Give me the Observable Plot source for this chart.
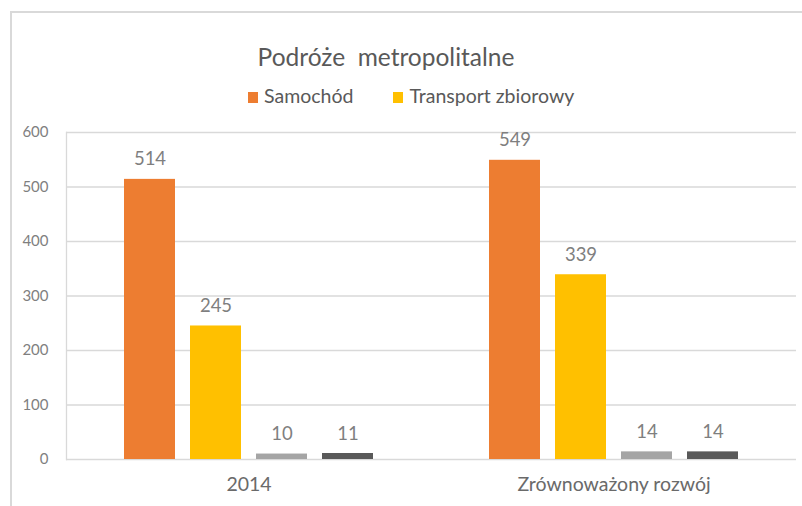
<!DOCTYPE html>
<html>
<head>
<meta charset="utf-8">
<script src="https://cdn.jsdelivr.net/npm/d3@7"></script>
<script src="https://cdn.jsdelivr.net/npm/@observablehq/plot@0.6"></script>
<style>
  html, body { margin: 0; padding: 0; background: #fff; }
  #wrap { position: relative; width: 802px; height: 506px; overflow: hidden; font-family: Lato, "Open Sans", sans-serif; }
  #frame { position: absolute; left: 10px; top: 11px; width: 800px; height: 500px; border-left: 2px solid #d9d9d9; border-top: 2px solid #d9d9d9; }
  #title { position: absolute; left: 0; top: 42px; width: 772px; text-align: center; font-size: 24.5px; color: #595959; white-space: pre; }
  #legend { position: absolute; left: 248px; top: 84px; font-size: 19.5px; color: #595959; white-space: nowrap; }
  #legend span.item { display: inline-block; margin-right: 40px; }
  #legend span.sw { display: inline-block; width: 10px; height: 11px; margin-right: 6px; vertical-align: 0px; }
  #chart { position: absolute; left: 0; top: 100px; }
</style>
</head>
<body>
<div id="wrap">
  <div id="frame"></div>
  <div id="title">Podróże  metropolitalne</div>
  <div id="legend"></div>
  <div id="chart"></div>
</div>
<script>
const groups = ["2014", "Zrównoważony rozwój"];
const series = ["Samochód", "Transport zbiorowy", "Seria 3", "Seria 4"];
const legendSeries = ["Samochód", "Transport zbiorowy"];
const colors = ["#ED7D31", "#FFC000", "#A5A5A5", "#595959"];
const values2014 = [514, 245, 10, 11];
const valuesRozwoj = [549, 339, 14, 14];
const yTicks = [0, 100, 200, 300, 400, 500, 600];

const data = [];
series.forEach((s, i) => data.push({group: groups[0], series: s, value: values2014[i]}));
series.forEach((s, i) => data.push({group: groups[1], series: s, value: valuesRozwoj[i]}));

const legend = document.getElementById("legend");
legendSeries.forEach(s => {
  const i = series.indexOf(s);
  const item = document.createElement("span");
  item.className = "item";
  const sw = document.createElement("span");
  sw.className = "sw";
  sw.style.background = colors[i];
  item.appendChild(sw);
  item.appendChild(document.createTextNode(s));
  legend.appendChild(item);
});

const chart = Plot.plot({
  width: 802,
  height: 406,
  marginLeft: 65,
  marginRight: 6,
  marginTop: 32,
  marginBottom: 47,
  style: {fontFamily: "Lato, 'Open Sans', sans-serif", background: "transparent"},
  fx: {domain: groups, padding: 0, label: null},
  x: {domain: series, paddingInner: 0.22, paddingOuter: 0.85, axis: null},
  y: {domain: [0, 600], label: null},
  color: {domain: series, range: colors},
  marks: [
    Plot.gridY(yTicks, {stroke: "#d9d9d9", strokeOpacity: 1, strokeWidth: 1.3, facetAnchor: null}),
    Plot.frame({anchor: "left", stroke: "#d9d9d9", strokeWidth: 1.3, facetAnchor: "left"}),
    Plot.axisY(yTicks, {tickSize: 0, tickPadding: 18, fontSize: 15, fill: "#7f7f7f", label: null}),
    Plot.axisFx({anchor: "bottom", tickSize: 0, tickPadding: 18, fontSize: 19.5, fill: "#6a6a6a", label: null}),
    Plot.barY(data, {fx: "group", x: "series", y: "value", fill: "series"}),
    Plot.text(data, {fx: "group", x: "series", y: "value", text: d => String(d.value), lineAnchor: "bottom", dy: -14, fontSize: 18.5, fill: "#7f7f7f"})
  ]
});
document.getElementById("chart").appendChild(chart);
</script>
</body>
</html>
